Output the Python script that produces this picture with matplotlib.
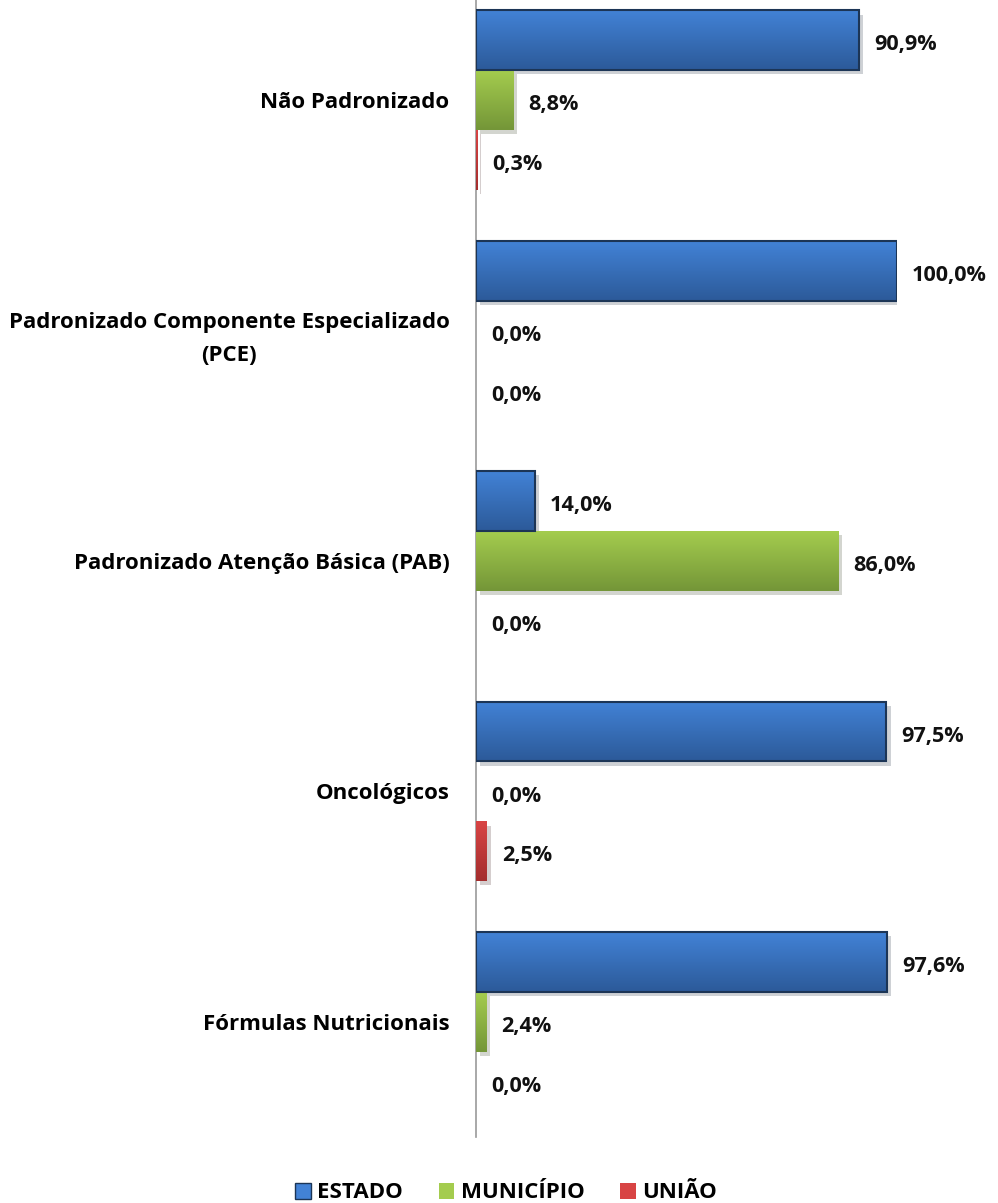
import numpy as np
import matplotlib.pyplot as plt
from matplotlib.patches import Patch, Rectangle
from matplotlib.colors import LinearSegmentedColormap
import matplotlib.patheffects as pe

plt.rcParams['font.family'] = ['Open Sans', 'DejaVu Sans']
plt.rcParams['font.weight'] = 'bold'

categorias = ["Não Padronizado",
              "Padronizado Componente Especializado\n(PCE)",
              "Padronizado Atenção Básica (PAB)",
              "Oncológicos",
              "Fórmulas Nutricionais"]
series = ["ESTADO", "MUNICÍPIO", "UNIÃO"]
estado = [90.9, 100.0, 14.0, 97.5, 97.6]
municipio = [8.8, 0.0, 86.0, 0.0, 2.4]
uniao = [0.3, 0.0, 0.0, 2.5, 0.0]

cores = {"ESTADO": ("#4282d6", "#2c5a99", "#1c3556"),
         "MUNICÍPIO": ("#a4cc4e", "#749638", None),
         "UNIÃO": ("#d84444", "#a42e2e", None)}

fig = plt.figure(figsize=(9.98, 12.03), dpi=100)
W, H = 998, 1203
ax = fig.add_axes([476 / W, (H - 1137) / H, 421 / W, 1152 / H])

n = len(categorias)
y = np.arange(n)
h = 0.26
valores = [estado, municipio, uniao]
for k, (nome, vals) in enumerate(zip(series, valores)):
    c1, c2, borda = cores[nome]
    cmap = LinearSegmentedColormap.from_list(nome, [c1, c2])
    grad = np.linspace(0, 1, 64).reshape(-1, 1)
    pos = y - h + k * h
    bars = ax.barh(pos, vals, height=h, color=c2, edgecolor='none',
                   path_effects=[pe.SimplePatchShadow(offset=(3, -3), alpha=0.2),
                                 pe.Normal()], zorder=2)
    for b, v in zip(bars, vals):
        if v <= 0:
            continue
        x0, y0 = b.get_x(), b.get_y()
        ax.imshow(grad, cmap=cmap, aspect='auto', zorder=3,
                  extent=[x0, x0 + b.get_width(), y0 + b.get_height(), y0])
        if borda:
            ax.add_patch(Rectangle((x0, y0), b.get_width(), b.get_height(),
                                   fill=False, edgecolor=borda, lw=1.5, zorder=4))
    for p, v in zip(pos, vals):
        ax.text(v + 3.6, p + 0.02, f"{v:.1f}%".replace('.', ','), va='center', ha='left',
                fontsize=15.6, color='#111111', zorder=5)

ax.set_xlim(0, 100)
ax.set_ylim(n - 0.5, -0.5)
ax.set_yticks(y)
ax.set_yticklabels(categorias, fontsize=16, multialignment='center')
for lbl in ax.get_yticklabels():
    lbl.set_linespacing(1.75)
ax.tick_params(axis='y', length=0, pad=19)
ax.set_xticks([])
for s in ['top', 'right', 'bottom']:
    ax.spines[s].set_visible(False)
ax.spines['left'].set_color('#999999')
ax.spines['left'].set_linewidth(1.2)

handles = [Patch(facecolor=cores[s][0], edgecolor=cores[s][2] or 'none', label=s) for s in series]
fig.legend(handles=handles, loc='center', bbox_to_anchor=(506 / W, 1 - 1193 / H), ncol=3,
           frameon=False, prop={'weight': 'bold', 'size': 16},
           handlelength=0.7, handleheight=0.7, handletextpad=0.3, columnspacing=1.6)

fig.savefig("out.png", dpi=100)
